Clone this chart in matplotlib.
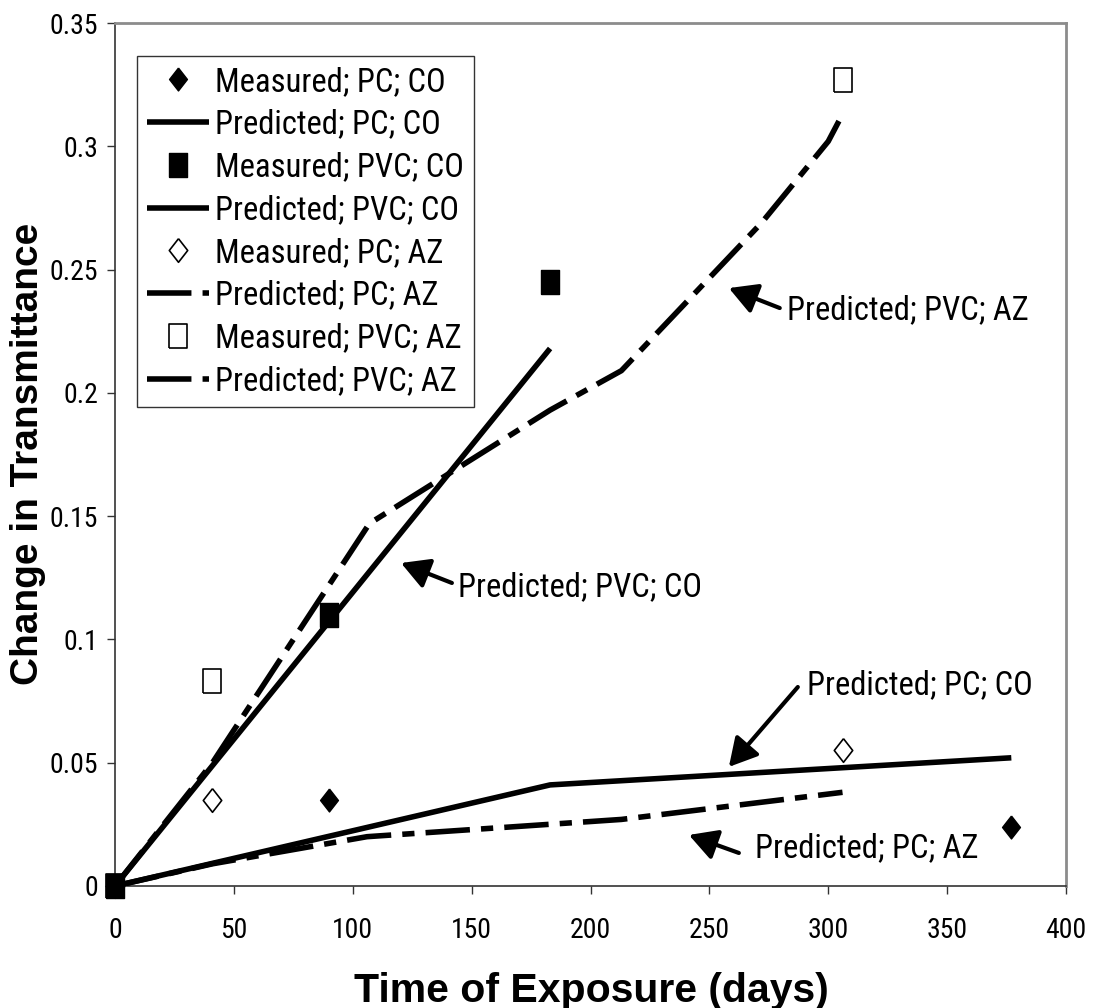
import numpy as np
import matplotlib
matplotlib.use('Agg')
import matplotlib.pyplot as plt

# measured points (days, change in transmittance)
days_meas_pc_co = [0, 90, 377]
meas_pc_co = [0, 0.035, 0.024]
days_meas_pvc_co = [0, 90, 183]
meas_pvc_co = [0, 0.110, 0.245]
days_meas_pc_az = [0, 41, 306]
meas_pc_az = [0, 0.035, 0.055]
days_meas_pvc_az = [0, 41, 306]
meas_pvc_az = [0, 0.083, 0.327]

# predicted curves
days_pred_pc_co = [0, 183, 377]
pred_pc_co = [0, 0.041, 0.052]
days_pred_pvc_co = [0, 183]
pred_pvc_co = [0, 0.218]
days_pred_pc_az = [0, 41, 106, 213, 306]
pred_pc_az = [0, 0.009, 0.020, 0.027, 0.038]
days_pred_pvc_az = [0, 41, 107, 183, 213, 272, 300, 306]
pred_pvc_az = [0, 0.050, 0.147, 0.193, 0.209, 0.269, 0.302, 0.313]

x_ticks = [0, 50, 100, 150, 200, 250, 300, 350, 400]
y_ticks = [0, 0.05, 0.1, 0.15, 0.2, 0.25, 0.3, 0.35]
y_tick_labels = ['0', '0.05', '0.1', '0.15', '0.2', '0.25', '0.3', '0.35']

# narrow sans first, plain sans as fallback
NARROW = ['Liberation Sans Narrow', 'Roboto Condensed', 'Archivo Narrow', 'Liberation Sans']
TXT_SIZE = 23.5
TICK_SIZE = 20


def makeGraph():
    plt.rcParams['font.family'] = NARROW

    fig = plt.figure(figsize=(10.96, 10.08), dpi=100)
    ax = fig.add_axes([115 / 1096, 1 - 886 / 1008, 951 / 1096, 863 / 1008])

    diamond = [(0, 1), (0.78, 0), (0, -1), (-0.78, 0), (0, 1)]
    rect = [(-0.78, -1), (0.78, -1), (0.78, 1), (-0.78, 1), (-0.78, -1)]
    dashdot = (0, (8, 2, 2.2, 2))
    lw = 4

    ax.plot(days_meas_pc_co, meas_pc_co, ls='none', marker=diamond, ms=16.5,
            mfc='black', mec='black', label='Measured; PC; CO', zorder=5, clip_on=False)
    ax.plot(days_pred_pc_co, pred_pc_co, color='black', lw=lw, solid_capstyle='butt',
            label='Predicted; PC; CO', zorder=3)
    ax.plot(days_meas_pvc_co, meas_pvc_co, ls='none', marker=rect, ms=17,
            mfc='black', mec='black', label='Measured; PVC; CO', zorder=6, clip_on=False)
    ax.plot(days_pred_pvc_co, pred_pvc_co, color='black', lw=lw, solid_capstyle='butt',
            label='Predicted; PVC; CO', zorder=3)
    ax.plot(days_meas_pc_az, meas_pc_az, ls='none', marker=diamond, ms=17,
            mfc='white', mec='black', mew=1.2, label='Measured; PC; AZ', zorder=4, clip_on=False)
    ax.plot(days_pred_pc_az, pred_pc_az, color='black', lw=lw, ls=dashdot,
            dash_capstyle='butt', label='Predicted; PC; AZ', zorder=3)
    ax.plot(days_meas_pvc_az, meas_pvc_az, ls='none', marker=rect, ms=17,
            mfc='white', mec='black', mew=1.2, label='Measured; PVC; AZ', zorder=4, clip_on=False)
    ax.plot(days_pred_pvc_az, pred_pvc_az, color='black', lw=lw, ls=dashdot,
            dash_capstyle='butt', label='Predicted; PVC; AZ', zorder=3)

    ax.set_xlim(0, 400)
    ax.set_ylim(0, 0.35)
    ax.set_xticks(x_ticks)
    ax.set_xticklabels([str(t) for t in x_ticks])
    ax.set_yticks(y_ticks)
    ax.set_yticklabels(y_tick_labels)
    ax.tick_params(direction='out', length=6, width=1, labelsize=TICK_SIZE, color='#333333')
    ax.tick_params(axis='x', pad=16)
    ax.tick_params(axis='y', pad=6)
    for side in ['left', 'bottom']:
        ax.spines[side].set_color('#333333')
        ax.spines[side].set_linewidth(1.2)
    for side in ['top', 'right']:
        ax.spines[side].set_color('#8c8c8c')
        ax.spines[side].set_linewidth(2)

    leg = ax.legend(loc='upper left', bbox_to_anchor=(137 / 1096, 1 - 56 / 1008),
                    bbox_transform=fig.transFigure, fontsize=TXT_SIZE, frameon=True,
                    fancybox=False, edgecolor='black', borderaxespad=0, borderpad=0.3,
                    handlelength=1.9, handletextpad=0.2, labelspacing=0.33)
    leg.get_frame().set_linewidth(1)

    # callouts: (arrow tip, arrow tail, text start)
    callouts = [
        ('Predicted; PVC; AZ', (258.2, 0.2425), (279.6, 0.2344), (282.6, 0.2336)),
        ('Predicted; PVC; CO', (120.3, 0.131), (141.7, 0.1229), (144.2, 0.1213)),
        ('Predicted; PC; CO', (258.2, 0.0483), (287.2, 0.0807), (291.0, 0.0815)),
        ('Predicted; PC; AZ', (241.4, 0.0207), (262.4, 0.0134), (269.1, 0.0154)),
    ]
    for label, tip, tail, pos in callouts:
        ax.annotate('', xy=tip, xytext=tail,
                    arrowprops=dict(arrowstyle='-|>,head_length=0.85,head_width=0.47',
                                    mutation_scale=20, lw=3, color='black',
                                    shrinkA=0, shrinkB=0))
        ax.text(pos[0], pos[1], label, fontsize=TXT_SIZE, ha='left', va='center')

    fig.text(28 / 1096, 1 - 454 / 1008, 'Change in Transmittance', rotation=90,
             ha='center', va='center', fontsize=28, fontweight='bold', family='Liberation Sans')
    fig.text(591 / 1096, 1 - 991 / 1008, 'Time of Exposure (days)',
             ha='center', va='center', fontsize=29.5, fontweight='bold', family='Liberation Sans')

    fig.savefig('out.png', dpi=100)


if __name__ == '__main__':
    makeGraph()
